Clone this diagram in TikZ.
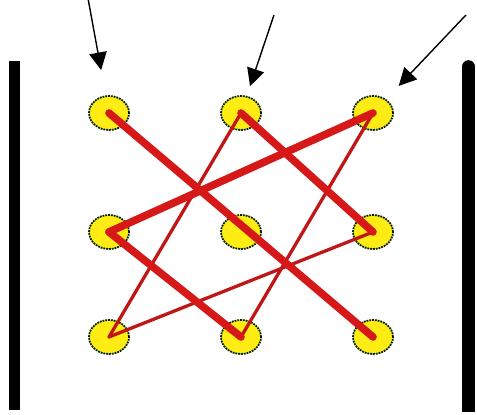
\documentclass[tikz,border=0pt]{standalone}
\usepackage{tikz}
\usetikzlibrary{arrows.meta, positioning, shapes.geometric}
\usepackage{xcolor}
\definecolor{dotyellow}{RGB}{255,236,20}
\definecolor{linered}{RGB}{214,24,24}

\begin{document}
\begin{tikzpicture}[
    on grid,
    node distance=3.57cm and 3.96cm,
    dot/.style={ellipse, draw=black!80!green!60!black, fill=dotyellow,
                line width=1.5pt, dash pattern=on 1.6pt off 0.8pt,
                minimum width=1.2cm, minimum height=1.02cm, inner sep=0pt},
    stroke/.style={linered, line width=6.5pt, line cap=round},
    thinstroke/.style={linered!90!black, line width=2.8pt, line cap=round},
    pointer/.style={-{Triangle[length=15pt, width=15pt]}, line width=1.2pt},
    bar/.style={line width=10pt},
]
\useasboundingbox (0,0) rectangle (14.31,12.45);

% Side bars
\draw[bar] (0.435,10.62) -- (0.435,0.15);
\draw[bar, line width=11pt] (14.055,10.45) -- (14.055,0.09);
\fill (14.055,10.45) circle (0.195);

% Dot grid
\node[dot] (tl) at (3.27,9.06) {};
\node[dot, right=of tl] (tm) {};
\node[dot, right=of tm] (tr) {};
\node[dot, below=of tl] (ml) {};
\node[dot, right=of ml] (mm) {};
\node[dot, right=of mm] (mr) {};
\node[dot, below=3.15cm of ml] (bl) {};
\node[dot, right=of bl] (bm) {};
\node[dot, right=of bm] (br) {};

% Thin lines
\draw[thinstroke] (tm.center) -- (bl.center);
\draw[thinstroke] (tr.center) -- (bm.center);
\draw[thinstroke] (bl.center) -- (mr.center);

% Thick lines
\draw[stroke] (tl.center) -- (br.center);
\draw[stroke] (tr.center) -- (ml.center);
\draw[stroke] (ml.center) -- (bm.center);
\draw[stroke] (tm.center) -- (mr.center);

% Pointers to the top row
\coordinate (p1) at (2.64,12.5);
\coordinate (p2) at (8.22,12.0);
\coordinate (p3) at (13.98,12.0);
\draw[pointer, shorten >=1.31cm] (p1) -- (tl.center);
\draw[pointer, shorten >=0.85cm] (p2) -- (tm.center);
\draw[pointer, shorten >=1.12cm] (p3) -- (tr.center);

\end{tikzpicture}
\end{document}
